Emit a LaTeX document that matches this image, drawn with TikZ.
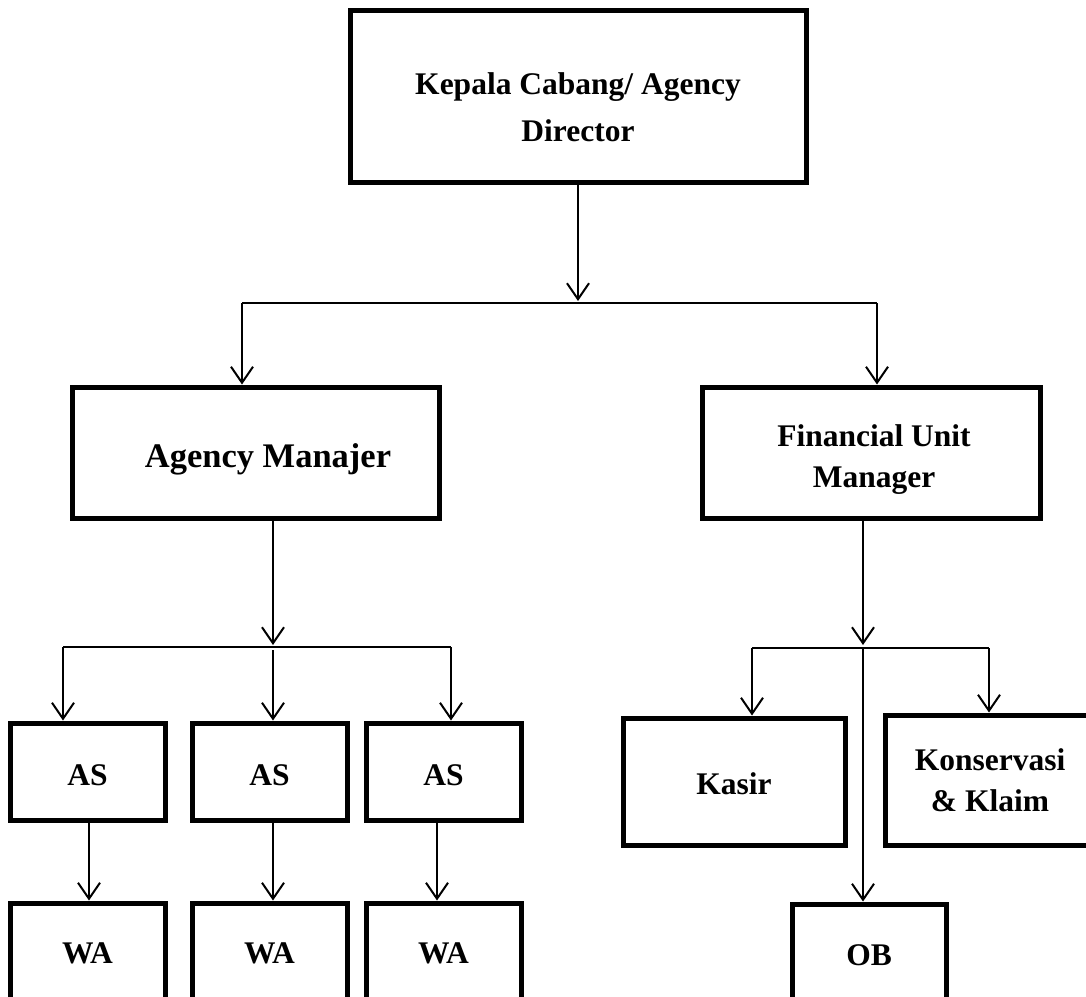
\documentclass[tikz,border=0pt]{standalone}
\usepackage{fontspec}
\setmainfont{Liberation Serif}
\usetikzlibrary{arrows.meta}
\begin{document}
\begin{tikzpicture}[x=1pt,y=-1pt,
  box/.style={draw,line width=5pt,inner sep=0pt},
  lbl/.style={inner sep=0pt,align=center,
    font=\fontsize{31.5}{41}\selectfont\bfseries},
  conn/.style={line width=2pt},
  arr/.style={line width=2pt,-{Straight Barb[length=16pt,width=22pt]}}]
\useasboundingbox (0,0) rectangle (1086,996);
% boxes
\node[box,minimum width=456pt,minimum height=172pt] (top) at (578,96) {};
\node[box,minimum width=367pt,minimum height=131pt] (am) at (255.5,452.5) {};
\node[box,minimum width=338pt,minimum height=131pt] (fum) at (871,452.5) {};
\node[box,minimum width=155pt,minimum height=97pt] (as1) at (87.5,771.5) {};
\node[box,minimum width=155pt,minimum height=97pt] (as2) at (269.5,771.5) {};
\node[box,minimum width=155pt,minimum height=97pt] (as3) at (443.5,771.5) {};
\node[box,minimum width=155pt,minimum height=100pt] (wa1) at (87.5,953) {};
\node[box,minimum width=155pt,minimum height=100pt] (wa2) at (269.5,953) {};
\node[box,minimum width=155pt,minimum height=100pt] (wa3) at (443.5,953) {};
\node[box,minimum width=222pt,minimum height=127pt] (kasir) at (734,781.5) {};
\node[box,minimum width=210pt,minimum height=130pt] (kons) at (990,780) {};
\node[box,minimum width=154pt,minimum height=102pt] (ob) at (869,955) {};
% texts
\node[lbl,font=\fontsize{31.5}{47}\selectfont\bfseries] (topt) at (578,107) {Kepala Cabang/ Agency\\Director};
\node[lbl,font=\fontsize{34.5}{41}\selectfont\bfseries] (amt) at (268,459) {Agency Manajer};
\node[lbl] (fumt) at (874,459.5) {Financial Unit\\Manager};
\node[lbl] (as1t) at (87.5,775) {AS};
\node[lbl] (as2t) at (269.5,775) {AS};
\node[lbl] (as3t) at (443.5,775) {AS};
\node[lbl] (wa1t) at (wa1.center) {WA};
\node[lbl] (wa2t) at (wa2.center) {WA};
\node[lbl] (wa3t) at (wa3.center) {WA};
\node[lbl] (kasirt) at (734,783.5) {Kasir};
\node[lbl] (konst) at (kons.center) {Konservasi\\\& Klaim};
\node[lbl] (obt) at (ob.center) {OB};
% junction coordinates
\coordinate (j1) at (578,301);
\coordinate (b1l) at (242,303);
\coordinate (b1r) at (877,303);
\coordinate (j2) at (273,645);
\coordinate (b2l) at (63,647);
\coordinate (b2m) at (273,650);
\coordinate (b2r) at (451,647);
\coordinate (j3) at (863,645);
\coordinate (b3l) at (752,648);
\coordinate (b3m) at (863,648);
\coordinate (b3r) at (989,648);
% top level
\draw[arr] (top.south) -- (j1);
\draw[conn] (b1l) -- (b1r);
\draw[arr] (b1l) -- (b1l |- am.north);
\draw[arr] (b1r) -- (b1r |- fum.north);
% agency manajer branch
\draw[arr] (j2 |- am.south) -- (j2);
\draw[conn] (b2l) -- (b2r);
\draw[arr] (b2l) -- (b2l |- as1.north);
\draw[arr] (b2m) -- (b2m |- as2.north);
\draw[arr] (b2r) -- (b2r |- as3.north);
\draw[arr] ([xshift=1.5pt]as1.south) -- ([xshift=1.5pt]wa1.north);
\draw[arr] ([xshift=3.5pt]as2.south) -- ([xshift=3.5pt]wa2.north);
\draw[arr] ([xshift=-6.5pt]as3.south) -- ([xshift=-6.5pt]wa3.north);
% financial unit manager branch
\draw[arr] (j3 |- fum.south) -- (j3);
\draw[conn] (b3l) -- (b3r);
\draw[arr] (b3l) -- (b3l |- kasir.north);
\draw[arr] (b3r) -- (b3r |- kons.north);
\draw[arr] (b3m) -- (b3m |- ob.north);
\end{tikzpicture}
\end{document}
